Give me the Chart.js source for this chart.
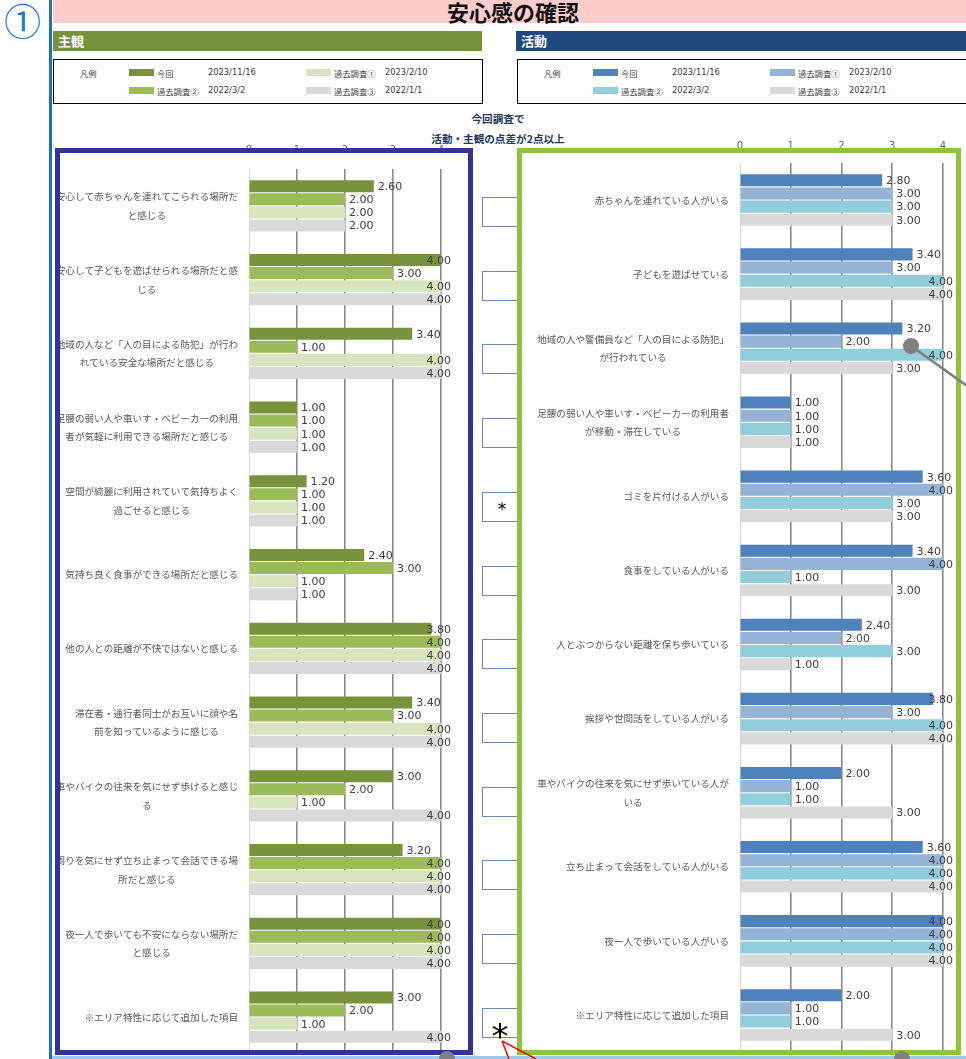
<!DOCTYPE html>
<html lang="ja">
<head>
<meta charset="UTF-8">
<title>安心感の確認</title>
<script src="https://cdn.jsdelivr.net/npm/chart.js"></script>
<style>
  body { margin:0; width:966px; height:1059px; overflow:hidden; background:#fff; position:relative; font-family:"Noto Sans CJK JP", sans-serif; }
  .abs { position:absolute; }
  #num { left:4px; top:-3px; font-size:37px; color:#1f7ad6; line-height:46px; }
  #vline { left:49px; top:0; width:3px; height:1059px; background:#1c70c4; }
  #hline { left:52px; top:1056px; width:914px; height:3px; background:#9dcbef; }
  #titlebar { left:53px; top:0; width:913px; height:23px; background:#ffcccc; }
  #title { left:447px; top:0; font-size:22px; font-weight:bold; line-height:23px; color:#111; }
  .head { top:31px; height:20px; color:#fff; font-size:13px; font-weight:bold; line-height:20px; padding-left:5px; box-sizing:border-box; }
  .legend { top:59px; height:45px; border:1px solid #000; box-sizing:border-box; background:#fff; }
  .legend span { position:absolute; font-size:8.3px; color:#404040; line-height:10px; white-space:nowrap; }
  .legend span.d { font-family:"DejaVu Sans", sans-serif; }
  .legend i { position:absolute; width:25px; height:7px; }
  .note { width:220px; left:388px; text-align:center; font-size:10.6px; font-weight:bold; color:#1f3864; line-height:14px; }
  .frame { top:148px; height:907px; box-sizing:border-box; border:5px solid; pointer-events:none; }
  .box { left:482px; width:40px; height:30px; border:1px solid #6d8bb8; box-sizing:border-box; background:#fff; text-align:center; font-family:"DejaVu Sans", sans-serif; color:#000; }
</style>
</head>
<body>
  <div class="abs" id="titlebar"></div>
  <div class="abs" id="title">安心感の確認</div>
  <div class="abs" id="vline"></div>
  <div class="abs" id="num">①</div>

  <div class="abs head" style="left:53px; width:429px; background:#76933c;">主観</div>
  <div class="abs head" style="left:516px; width:450px; background:#1f497d;">活動</div>

  <div class="abs legend" id="legendLeft" style="left:53px; width:430px;"></div>
  <div class="abs legend" id="legendRight" style="left:517px; width:460px;"></div>

  <div class="abs note" style="top:112px;">今回調査で</div>
  <div class="abs note" style="top:132px;">活動・主観の点差が2点以上</div>

  <div class="abs" style="left:59px; top:140px;"><canvas id="leftChart" width="412" height="919"></canvas></div>
  <div class="abs" style="left:522px; top:136px;"><canvas id="rightChart" width="444" height="923"></canvas></div>

  <div id="boxes"></div>

  <div class="abs frame" style="left:55px; width:418px; border-color:#333399;"></div>
  <div class="abs frame" style="left:517px; width:444px; border-color:#8cc43c;"></div>

  <div class="abs" id="hline"></div>

  <svg class="abs" style="left:0; top:0;" width="966" height="1059">
    <line x1="911" y1="346" x2="970" y2="388" stroke="#7f7f7f" stroke-width="2.5"/>
    <circle cx="911" cy="346" r="8" fill="#808080"/>
    <circle cx="447" cy="1059" r="8" fill="#808080"/>
    <circle cx="902" cy="1059" r="8" fill="#808080"/>
    <text x="500" y="1048" text-anchor="middle" font-family="DejaVu Sans" font-size="34" fill="#000">*</text>
    <line x1="502" y1="1041" x2="509" y2="1059" stroke="#ff0000" stroke-width="1.5"/>
    <line x1="502" y1="1041" x2="536" y2="1059" stroke="#ff0000" stroke-width="1.5"/>
  </svg>

<script>
// 凡例
const legendNames = ['今回', '過去調査①', '過去調査②', '過去調査③'];
const legendDates = ['2023/11/16', '2023/2/10', '2022/3/2', '2022/1/1'];

// 主観（左）
const leftLabels = [
  ['安心して赤ちゃんを連れてこられる場所だ', 'と感じる'],
  ['安心して子どもを遊ばせられる場所だと感', 'じる'],
  ['地域の人など「人の目による防犯」が行わ', 'れている安全な場所だと感じる'],
  ['足腰の弱い人や車いす・ベビーカーの利用', '者が気軽に利用できる場所だと感じる'],
  ['空間が綺麗に利用されていて気持ちよく', '過ごせると感じる'],
  '気持ち良く食事ができる場所だと感じる',
  '他の人との距離が不快ではないと感じる',
  ['滞在者・通行者同士がお互いに顔や名', '前を知っているように感じる'],
  ['車やバイクの往来を気にせず歩けると感じ', 'る'],
  ['周りを気にせず立ち止まって会話できる場', '所だと感じる'],
  ['夜一人で歩いても不安にならない場所だ', 'と感じる'],
  '※エリア特性に応じて追加した項目'
];
const leftNow   = [2.6, 4, 3.4, 1, 1.2, 2.4, 3.8, 3.4, 3, 3.2, 4, 3];
const leftPast2 = [2, 3, 1, 1, 1, 3, 4, 3, 2, 4, 4, 2];
const leftPast1 = [2, 4, 4, 1, 1, 1, 4, 4, 1, 4, 4, 1];
const leftPast3 = [2, 4, 4, 1, 1, 1, 4, 4, 4, 4, 4, 4];

// 活動（右）
const rightLabels = [
  '赤ちゃんを連れている人がいる',
  '子どもを遊ばせている',
  ['地域の人や警備員など「人の目による防犯」', 'が行われている'],
  ['足腰の弱い人や車いす・ベビーカーの利用者', 'が移動・滞在している'],
  'ゴミを片付ける人がいる',
  '食事をしている人がいる',
  '人とぶつからない距離を保ち歩いている',
  '挨拶や世間話をしている人がいる',
  ['車やバイクの往来を気にせず歩いている人が', 'いる'],
  '立ち止まって会話をしている人がいる',
  '夜一人で歩いている人がいる',
  '※エリア特性に応じて追加した項目'
];
const rightNow   = [2.8, 3.4, 3.2, 1, 3.6, 3.4, 2.4, 3.8, 2, 3.6, 4, 2];
const rightPast1 = [3, 3, 2, 1, 4, 4, 2, 3, 1, 4, 4, 1];
const rightPast2 = [3, 4, 4, 1, 3, 1, 3, 4, 1, 4, 4, 1];
const rightPast3 = [3, 4, 3, 1, 3, 3, 1, 4, 3, 4, 4, 3];

const xTicks = [0, 1, 2, 3, 4];

const greens = { now: '#77933c', p1: '#d7e4bd', p2: '#9bbb59', p3: '#d9d9d9' };
const blues  = { now: '#4f81bd', p1: '#95b3d7', p2: '#92cddc', p3: '#d9d9d9' };

function buildLegend(el, col) {
  const keyCols = [col.now, col.p1, col.p2, col.p3];
  let html = '<span style="left:26px; top:8px;">凡例</span>';
  legendNames.forEach((n, i) => {
    const row = Math.floor(i / 2), c = i % 2;
    const x = 75 + c * 177, y = 9 + row * 18;
    html += `<i style="left:${x}px; top:${y}px; background:${keyCols[i]};"></i>`;
    html += `<span style="left:${x + 28}px; top:${y - 1}px;">${n}</span>`;
    html += `<span class="d" style="left:${x + 79}px; top:${y - 2}px;">${legendDates[i]}</span>`;
  });
  el.innerHTML = html;
}
buildLegend(document.getElementById('legendLeft'), greens);
buildLegend(document.getElementById('legendRight'), blues);

// 中央の判定欄（点差2点以上に＊）
const boxWrap = document.getElementById('boxes');
leftNow.forEach((v, i) => {
  const mark = Math.abs(v - rightNow[i]) >= 2 ? '*' : '';
  const top = 197 + i * 73.7;
  boxWrap.insertAdjacentHTML('beforeend',
    `<div class="abs box" style="top:${top}px; font-size:17px; line-height:32px;">${mark}</div>`);
});

const catLabels = {
  id: 'catLabels',
  afterDraw(chart) {
    const { ctx, chartArea, scales: { y } } = chart;
    ctx.save();
    ctx.font = '9.6px "Noto Sans CJK JP"';
    ctx.fillStyle = '#595959';
    ctx.textAlign = 'center';
    ctx.textBaseline = 'middle';
    chart.data.labels.forEach((lab, i) => {
      const lines = [].concat(lab);
      const w = Math.max(...lines.map(l => ctx.measureText(l).width));
      const cx = chartArea.left - 11 - w / 2;
      const cy = y.getPixelForTick(i);
      lines.forEach((l, k) => ctx.fillText(l, cx, cy + (k - (lines.length - 1) / 2) * 18.5));
    });
    ctx.restore();
  }
};

const valueLabels = {
  id: 'valueLabels',
  afterDatasetsDraw(chart) {
    const { ctx, chartArea } = chart;
    ctx.save();
    ctx.font = '11px "DejaVu Sans"';
    ctx.fillStyle = '#404040';
    ctx.textAlign = 'left';
    ctx.textBaseline = 'middle';
    chart.data.datasets.forEach((ds, di) => {
      chart.getDatasetMeta(di).data.forEach((bar, i) => {
        const t = ds.data[i].toFixed(2);
        const w = ctx.measureText(t).width;
        const x = Math.min(bar.x + 4, chartArea.right + 10 - w);
        ctx.fillText(t, x, bar.y + 1);
      });
    });
    ctx.restore();
  }
};

function makeChart(id, labels, sets, g) {
  return new Chart(document.getElementById(id), {
    type: 'bar',
    data: {
      labels: labels,
      datasets: sets.map(s => ({
        label: s.label,
        data: s.data,
        backgroundColor: s.color,
        borderWidth: 0,
        barPercentage: 0.92,
        categoryPercentage: 0.71
      }))
    },
    options: {
      indexAxis: 'y',
      responsive: false,
      animation: false,
      devicePixelRatio: 1,
      layout: { padding: { left: 0, top: 0, right: g.padRight, bottom: g.padBottom } },
      plugins: { legend: { display: false }, tooltip: { enabled: false } },
      scales: {
        x: {
          position: 'top',
          min: 0, max: 4,
          afterBuildTicks: s => { s.ticks = xTicks.map(v => ({ value: v })); },
          afterFit: s => { s.height = g.xHeight; },
          ticks: { padding: g.tickPad, color: '#666', font: { family: 'DejaVu Sans', size: 10 } },
          grid: {
            drawTicks: false,
            color: c => c.tick && c.tick.value === 0 ? '#d9d9d9' : '#8a8a8a',
            lineWidth: c => c.tick && c.tick.value === 0 ? 1 : 1.6
          },
          border: { display: false }
        },
        y: {
          afterFit: s => { s.width = g.yWidth; },
          ticks: { display: false },
          grid: { display: false },
          border: { display: false }
        }
      }
    },
    plugins: [catLabels, valueLabels]
  });
}

makeChart('leftChart', leftLabels, [
  { label: legendNames[0], data: leftNow, color: greens.now },
  { label: legendNames[2], data: leftPast2, color: greens.p2 },
  { label: legendNames[1], data: leftPast1, color: greens.p1 },
  { label: legendNames[3], data: leftPast3, color: greens.p3 }
], { yWidth: 190, xHeight: 29, padRight: 30, padBottom: 5, tickPad: 13 });

makeChart('rightChart', rightLabels, [
  { label: legendNames[0], data: rightNow, color: blues.now },
  { label: legendNames[1], data: rightPast1, color: blues.p1 },
  { label: legendNames[2], data: rightPast2, color: blues.p2 },
  { label: legendNames[3], data: rightPast3, color: blues.p3 }
], { yWidth: 218, xHeight: 27, padRight: 23, padBottom: 7, tickPad: 11 });
</script>
</body>
</html>
